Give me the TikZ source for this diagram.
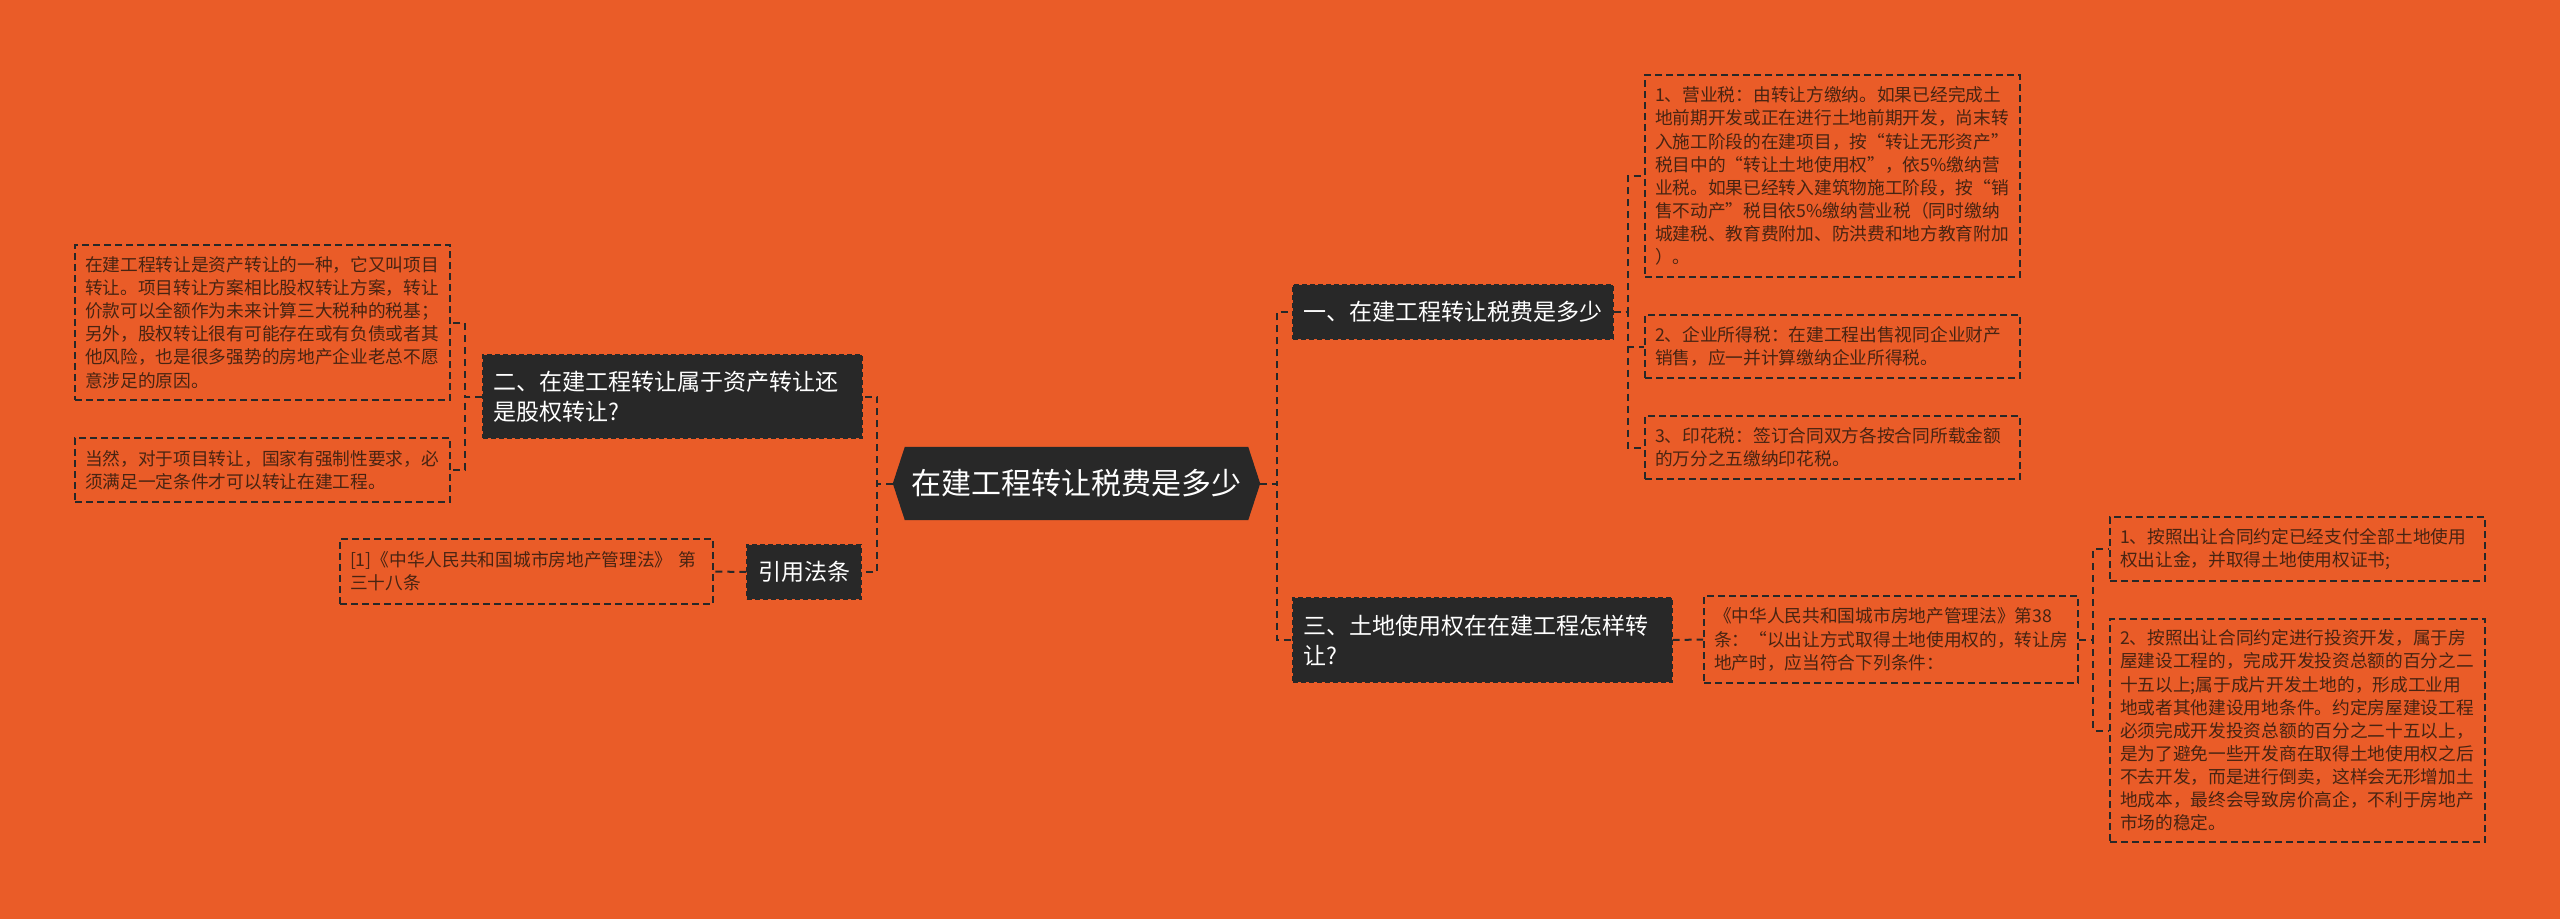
\documentclass[tikz,border=0pt]{standalone}
\usepackage{fontspec}
\setmainfont{Noto Sans CJK SC}
\usetikzlibrary{backgrounds}
\definecolor{bg}{RGB}{234,92,40}
\definecolor{dk}{RGB}{40,40,40}
\definecolor{lt}{RGB}{72,36,18}
\tikzset{
  leaf/.style={draw=dk, line width=1.6pt, dash pattern=on 7pt off 4pt, text=lt,
    font=\fontsize{17.7pt}{23.1pt}\selectfont, align=left, inner sep=0pt},
  topic/.style={fill=dk, draw=dk, line width=1.2pt, dash pattern=on 5pt off 3pt, text=white,
    font=\fontsize{23pt}{30pt}\selectfont, align=left, inner sep=0pt},
  conn/.style={draw=dk, line width=2pt, dash pattern=on 7pt off 5pt},
}
\begin{document}
\begin{tikzpicture}[x=1pt,y=-1pt]
\begin{pgfonlayer}{background}
\fill[bg] (0,0) rectangle (2560,919);
\end{pgfonlayer}
\useasboundingbox (0,0) rectangle (2560,919);

% central node
\node[text=white, font=\fontsize{30pt}{36pt}\selectfont, minimum width=343pt, minimum height=73pt, inner sep=0pt] (c) at (1076.5,483.5) {在建工程转让税费是多少};
\begin{pgfonlayer}{background}
\fill[dk] ([xshift=-12pt]c.west) -- (c.north west) -- (c.north east) -- ([xshift=12pt]c.east) -- (c.south east) -- (c.south west) -- cycle;
\end{pgfonlayer}
\coordinate (cE) at ([xshift=12pt]c.east);
\coordinate (cW) at ([xshift=-12pt]c.west);

% topics
\node[topic, minimum width=320pt, minimum height=54pt, text width=300pt] (n1) at (1453,312) {一、在建工程转让税费是多少};
\node[topic, minimum width=379pt, minimum height=84pt, text width=359pt] (n3) at (1482.5,640) {三、土地使用权在在建工程怎样转\\让?};
\node[topic, minimum width=379pt, minimum height=83pt, text width=359pt] (n2) at (672.5,396.5) {二、在建工程转让属于资产转让还\\是股权转让?};
\node[topic, align=center, minimum width=114pt, minimum height=54pt] (n4) at (804,572) {引用法条};

% leaves of topic 1
\node[leaf, minimum width=375pt, minimum height=202pt, text width=355pt] (a1) at (1832.5,176) {1、营业税：由转让方缴纳。如果已经完成土\\地前期开发或正在进行土地前期开发，尚末转\\入施工阶段的在建项目，按“转让无形资产”\\税目中的“转让土地使用权”，依5\%缴纳营\\业税。如果已经转入建筑物施工阶段，按“销\\售不动产”税目依5\%缴纳营业税（同时缴纳\\城建税、教育费附加、防洪费和地方教育附加\\）。};
\node[leaf, minimum width=375pt, minimum height=63pt, text width=355pt] (a2) at (1832.5,346.5) {2、企业所得税：在建工程出售视同企业财产\\销售，应一并计算缴纳企业所得税。};
\node[leaf, minimum width=375pt, minimum height=63pt, text width=355pt] (a3) at (1832.5,447.5) {3、印花税：签订合同双方各按合同所载金额\\的万分之五缴纳印花税。};

% leaves of topic 2
\node[leaf, minimum width=375pt, minimum height=155pt, text width=355pt] (b1) at (262.5,322.5) {在建工程转让是资产转让的一种，它又叫项目\\转让。项目转让方案相比股权转让方案，转让\\价款可以全额作为未来计算三大税种的税基；\\另外，股权转让很有可能存在或有负债或者其\\他风险，也是很多强势的房地产企业老总不愿\\意涉足的原因。};
\node[leaf, minimum width=375pt, minimum height=64pt, text width=355pt] (b2) at (262.5,470) {当然，对于项目转让，国家有强制性要求，必\\须满足一定条件才可以转让在建工程。};

% law leaf
\node[leaf, minimum width=373pt, minimum height=65pt, text width=353pt] (d1) at (526.5,571.5) {[1]《中华人民共和国城市房地产管理法》~第\\三十八条};

% topic 3 leaves
\node[leaf, minimum width=374pt, minimum height=87pt, text width=354pt] (e1) at (1891,639.5) {《中华人民共和国城市房地产管理法》第38\\条：“以出让方式取得土地使用权的，转让房\\地产时，应当符合下列条件：};
\node[leaf, minimum width=375pt, minimum height=64pt, text width=355pt] (f1) at (2297.5,549) {1、按照出让合同约定已经支付全部土地使用\\权出让金，并取得土地使用权证书;};
\node[leaf, minimum width=375pt, minimum height=223pt, text width=355pt] (f2) at (2297.5,730.5) {2、按照出让合同约定进行投资开发，属于房\\屋建设工程的，完成开发投资总额的百分之二\\十五以上;属于成片开发土地的，形成工业用\\地或者其他建设用地条件。约定房屋建设工程\\必须完成开发投资总额的百分之二十五以上，\\是为了避免一些开发商在取得土地使用权之后\\不去开发，而是进行倒卖，这样会无形增加土\\地成本，最终会导致房价高企，不利于房地产\\市场的稳定。};

% junction coordinates
\coordinate (jR) at (1277,483.5);
\coordinate (jL) at (877,483.5);
\coordinate (j1) at (1628,312);
\coordinate (j2) at (465,396.5);
\coordinate (j3) at (2093,639.5);

% connectors
\draw[conn] (cE) -- (jR) |- (n1.west);
\draw[conn] (cE) -- (jR) |- (n3.west);
\draw[conn] (cW) -- (jL) |- (n2.east);
\draw[conn] (cW) -- (jL) |- (n4.east);
\draw[conn] (n1.east) -- (j1) |- (a1.west);
\draw[conn] (n1.east) -- (j1) |- (a2.west);
\draw[conn] (n1.east) -- (j1) |- (a3.west);
\draw[conn] (n2.west) -- (j2) |- (b1.east);
\draw[conn] (n2.west) -- (j2) |- (b2.east);
\draw[conn] (n4.west) -- (d1.east);
\draw[conn] (n3.east) -- (e1.west);
\draw[conn] (e1.east) -- (j3) |- (f1.west);
\draw[conn] (e1.east) -- (j3) |- (f2.west);
\end{tikzpicture}
\end{document}
